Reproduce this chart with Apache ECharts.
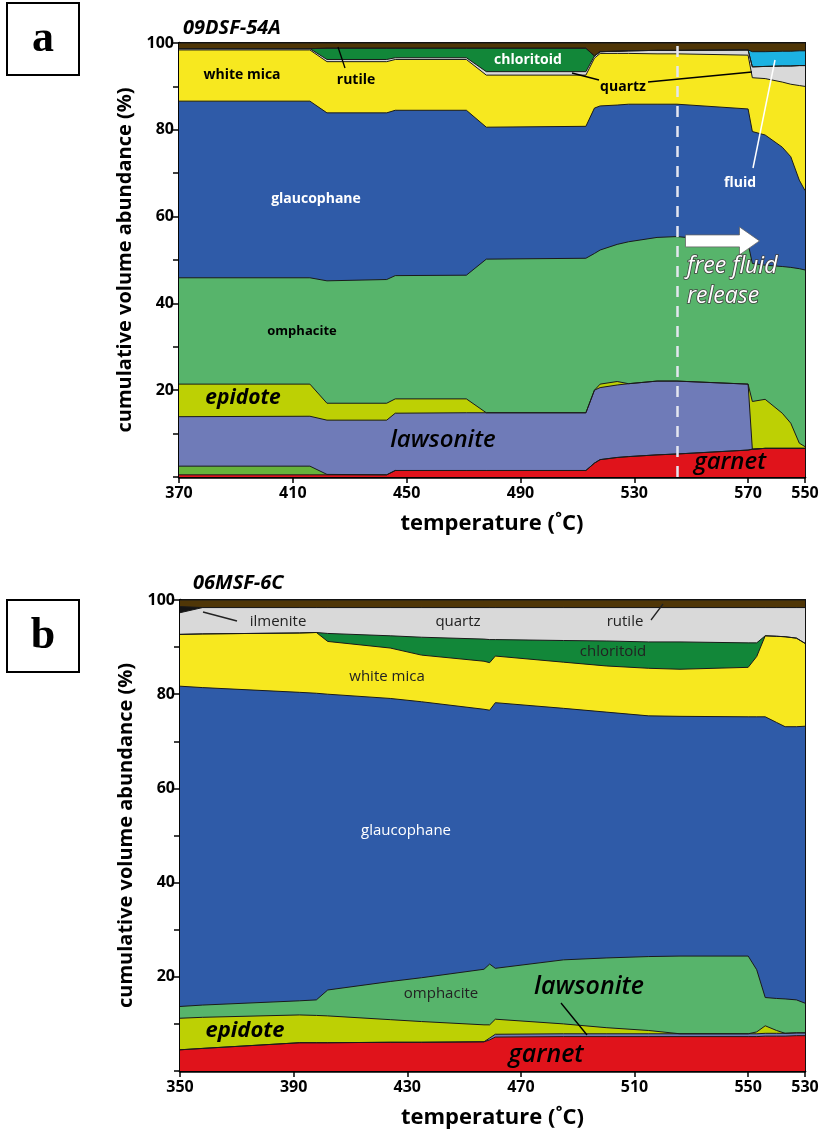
<!DOCTYPE html>
<html>
<head>
<meta charset="utf-8">
<script src="https://cdn.jsdelivr.net/npm/echarts@6/dist/echarts.min.js"></script>
<style>
html,body{margin:0;padding:0;background:#fff}
#c{width:825px;height:1134px}
</style>
</head>
<body>
<div id="c"></div>
<script>
// ---------- Panel a: 09DSF-54A (cumulative volume %, path position along the P-T path) ----------
// Path position; the last point (590) is the retrograde end at 550 °C
const xA = [370, 416, 422, 443, 446, 471, 478, 513, 516, 518, 524, 528, 538, 545, 570, 571.5, 576, 582, 585, 588, 590];
const xTicksA = [370, 410, 450, 490, 530, 570, 590];
const xTickLabelsA = ['370', '410', '450', '490', '530', '570', '550'];

// cumulative upper boundary of each phase
const garnetA      = [0.5, 0.5, 0.5, 0.5, 1.5, 1.5, 1.5, 1.5, 3.2, 4.0, 4.5, 4.7, 5.1, 5.3, 6.2, 6.4, 6.6, 6.6, 6.6, 6.6, 6.6];
const chloriteA    = [2.5, 2.5, 0.6, 0.5, 1.5, 1.5, 1.5, 1.5, 3.2, 4.0, 4.5, 4.7, 5.1, 5.3, 6.2, 6.4, 6.6, 6.6, 6.6, 6.6, 6.6];
const lawsoniteA   = [13.9, 14.0, 13.1, 13.1, 14.7, 14.8, 14.8, 14.8, 20.0, 20.6, 21.2, 21.5, 22.1, 22.1, 21.4, 6.4, 6.6, 6.6, 6.6, 6.6, 6.6];
const epidoteA     = [21.4, 21.4, 17.0, 17.0, 18.0, 18.0, 14.8, 14.8, 20.0, 21.4, 22.0, 21.5, 22.1, 22.1, 21.4, 17.4, 17.9, 14.7, 12.4, 7.8, 7.0];
const omphaciteA   = [45.9, 45.9, 45.2, 45.5, 46.4, 46.5, 50.2, 50.4, 51.5, 52.3, 53.6, 54.2, 55.2, 55.4, 53.8, 49.2, 48.8, 48.5, 48.3, 48.0, 47.7];
const glaucophaneA = [86.6, 86.6, 83.9, 83.9, 84.5, 84.5, 80.6, 80.8, 85.0, 85.5, 85.7, 85.9, 85.9, 85.9, 84.8, 79.6, 78.8, 76.0, 73.8, 68.4, 66.0];
const whiteMicaA   = [98.4, 98.4, 95.7, 95.7, 96.2, 96.2, 92.6, 92.6, 96.5, 97.6, 97.6, 97.6, 97.5, 97.5, 97.2, 92.0, 91.8, 91.0, 90.5, 90.2, 90.0];
const quartzA      = [98.7, 98.7, 96.2, 96.2, 96.6, 96.6, 93.4, 93.4, 97.0, 98.0, 98.1, 98.2, 98.3, 98.3, 98.4, 94.5, 94.6, 94.7, 94.7, 94.8, 94.8];
const chloritoidA  = [98.7, 98.7, 98.8, 98.8, 98.8, 98.8, 98.8, 98.8, 97.0, 98.0, 98.1, 98.2, 98.3, 98.3, 98.4, 94.5, 94.6, 94.7, 94.7, 94.8, 94.8];
const fluidA       = [98.7, 98.7, 98.8, 98.8, 98.8, 98.8, 98.8, 98.8, 97.0, 98.0, 98.1, 98.2, 98.3, 98.3, 98.4, 98.0, 98.0, 98.1, 98.1, 98.2, 98.2];
const rutileA      = [100, 100, 100, 100, 100, 100, 100, 100, 100, 100, 100, 100, 100, 100, 100, 100, 100, 100, 100, 100, 100];
const fluidReleaseA = 545;

// ---------- Panel b: 06MSF-6C ----------
const xB = [350, 358, 392, 398, 402, 424, 435, 457, 459, 461, 485, 500, 515, 526, 550, 553, 556, 560, 563, 567, 570];
const xTicksB = [350, 390, 430, 470, 510, 550, 570];
const xTickLabelsB = ['350', '390', '430', '470', '510', '550', '530'];

const garnetB      = [4.5, 4.8, 6.0, 6.0, 6.0, 6.1, 6.1, 6.2, 6.6, 7.2, 7.3, 7.3, 7.3, 7.3, 7.3, 7.3, 7.4, 7.4, 7.4, 7.5, 7.5];
const lawsoniteB   = [4.5, 4.8, 6.0, 6.0, 6.0, 6.1, 6.1, 6.2, 7.0, 7.8, 7.9, 7.9, 7.9, 7.9, 7.9, 7.9, 8.0, 8.0, 8.0, 8.1, 8.1];
const epidoteB     = [11.2, 11.4, 11.9, 11.8, 11.7, 10.9, 10.5, 9.8, 9.8, 11.0, 10.0, 9.2, 8.6, 7.9, 7.9, 8.3, 9.6, 8.6, 8.0, 8.1, 8.1];
const omphaciteB   = [13.7, 14.0, 14.9, 15.1, 17.2, 19.0, 19.8, 21.6, 22.7, 21.8, 23.6, 24.0, 24.3, 24.4, 24.4, 21.5, 15.6, 15.4, 15.3, 15.1, 14.4];
const glaucophaneB = [81.7, 81.4, 80.4, 80.2, 80.0, 79.1, 78.4, 76.8, 76.6, 78.2, 77.0, 76.2, 75.4, 75.3, 75.2, 75.2, 75.2, 74.0, 73.1, 73.1, 73.2];
const whiteMicaB   = [92.7, 92.8, 93.0, 93.1, 91.2, 89.8, 88.3, 87.0, 86.7, 88.1, 86.8, 86.0, 85.5, 85.3, 85.7, 88.0, 92.4, 92.3, 92.2, 91.9, 90.8];
const chloritoidB  = [92.7, 92.8, 93.0, 93.1, 92.9, 92.4, 92.1, 91.7, 91.6, 91.6, 91.4, 91.3, 91.1, 91.1, 90.9, 90.9, 92.4, 92.3, 92.2, 91.9, 90.8];
const quartzB      = [97.3, 98.4, 98.4, 98.4, 98.4, 98.4, 98.4, 98.4, 98.4, 98.4, 98.4, 98.4, 98.4, 98.4, 98.4, 98.4, 98.4, 98.4, 98.4, 98.4, 98.4];
const ilmeniteB    = [98.6, 98.4, 98.4, 98.4, 98.4, 98.4, 98.4, 98.4, 98.4, 98.4, 98.4, 98.4, 98.4, 98.4, 98.4, 98.4, 98.4, 98.4, 98.4, 98.4, 98.4];
const rutileB      = [100, 100, 100, 100, 100, 100, 100, 100, 100, 100, 100, 100, 100, 100, 100, 100, 100, 100, 100, 100, 100];

const yTicks = [0, 100, 10];

// ---------- colours ----------
const C = {
  rutile: '#4f3607', fluid: '#1cb2e2', chloritoid: '#128739', quartz: '#d9d9d9',
  whiteMica: '#f7e81f', glaucophane: '#2f5ba8', omphacite: '#57b46b', epidote: '#bdd004',
  lawsonite: '#6f7bb8', chlorite: '#66b33a', garnet: '#e0131b', ilmenite: '#141414'
};
const FONT = '"Open Sans", "DejaVu Sans", sans-serif';

// Layers listed from the top of the column downwards: each fills down to 0,
// so every later (lower) phase paints over the one above it.
const layersA = [
  ['rutile', rutileA], ['fluid', fluidA], ['chloritoid', chloritoidA], ['quartz', quartzA],
  ['whiteMica', whiteMicaA], ['glaucophane', glaucophaneA], ['omphacite', omphaciteA],
  ['epidote', epidoteA], ['lawsonite', lawsoniteA], ['chlorite', chloriteA], ['garnet', garnetA]
];
const layersB = [
  ['rutile', rutileB], ['ilmenite', ilmeniteB], ['quartz', quartzB], ['chloritoid', chloritoidB],
  ['whiteMica', whiteMicaB], ['glaucophane', glaucophaneB], ['omphacite', omphaciteB],
  ['epidote', epidoteB], ['lawsonite', lawsoniteB], ['garnet', garnetB]
];

function pairs(xs, ys) { return xs.map((x, i) => [x, ys[i]]); }

function buildSeries(layers, xs, idx) {
  return layers.map(([key, vals]) => ({
    name: key + (idx ? 'B' : 'A'),
    type: 'line',
    xAxisIndex: idx, yAxisIndex: idx,
    data: pairs(xs, vals),
    showSymbol: false, symbol: 'none',
    lineStyle: { color: '#1a1a1a', width: 1 },
    areaStyle: { color: C[key], opacity: 1 },
    silent: true, animation: false
  }));
}

function xAxis(idx, min, max, ticks, labels) {
  return {
    type: 'value', gridIndex: idx, min: min, max: max,
    name: 'temperature (\u02DAC)', nameLocation: 'middle', nameGap: 36,
    nameTextStyle: { fontFamily: FONT, fontWeight: 'bold', fontSize: 22, color: '#000' },
    axisLine: { show: true, lineStyle: { color: '#000', width: 2.5 } },
    axisTick: { show: true, customValues: ticks, length: 6, lineStyle: { color: '#000', width: 1.5 } },
    axisLabel: {
      customValues: ticks, color: '#000', fontFamily: FONT, fontWeight: 'bold', fontSize: 16, margin: 8,
      formatter: v => labels[ticks.indexOf(v)]
    },
    splitLine: { show: false }
  };
}

function yAxis(idx) {
  return {
    type: 'value', gridIndex: idx, min: yTicks[0], max: yTicks[1], interval: yTicks[2],
    name: 'cumulative volume abundance (%)', nameLocation: 'middle', nameGap: 44, nameRotate: 90,
    nameTextStyle: { fontFamily: FONT, fontWeight: 'bold', fontSize: 20, color: '#000' },
    axisLine: { show: true, lineStyle: { color: '#000', width: 2.5 } },
    axisTick: { show: true, length: 6, lineStyle: { color: '#000', width: 1.5 } },
    axisLabel: {
      color: '#000', fontFamily: FONT, fontWeight: 'bold', fontSize: 16, margin: 5,
      formatter: v => (v > 0 && v % 20 === 0) ? String(v) : ''
    },
    splitLine: { show: false }
  };
}

const seriesA = buildSeries(layersA, xA, 0);
const seriesB = buildSeries(layersB, xB, 1);
// dashed marker for the onset of free fluid release
seriesA[seriesA.length - 1].markLine = {
  symbol: 'none', silent: true, animation: false, label: { show: false },
  lineStyle: { color: '#e4e6f0', type: [11, 9], width: 2.5 },
  data: [{ xAxis: fluidReleaseA }]
};

const chart = echarts.init(document.getElementById('c'), null, { renderer: 'canvas' });
chart.setOption({
  backgroundColor: '#fff',
  animation: false,
  grid: [
    { left: 179, right: 20, top: 43, height: 434, show: true, borderColor: '#111', borderWidth: 2, backgroundColor: 'transparent' },
    { left: 180, right: 20, top: 600, height: 471, show: true, borderColor: '#111', borderWidth: 2, backgroundColor: 'transparent' }
  ],
  xAxis: [xAxis(0, 370, 590, xTicksA, xTickLabelsA), xAxis(1, 350, 570, xTicksB, xTickLabelsB)],
  yAxis: [yAxis(0), yAxis(1)],
  series: seriesA.concat(seriesB)
});

// ---------- annotations ----------
function txt(x, y, text, opt) {
  opt = opt || {};
  return {
    type: 'text', x: x, y: y, silent: true, z: 100,
    style: Object.assign({
      text: text, fill: '#000',
      font: (opt.style || '') + ' ' + (opt.weight || 'bold') + ' ' + (opt.size || 14) + 'px ' + (opt.family || FONT),
      textAlign: opt.align || 'center', textVerticalAlign: 'middle'
    }, opt.extra || {})
  };
}
function seg(x1, y1, x2, y2, color, w) {
  return { type: 'line', silent: true, z: 100, shape: { x1: x1, y1: y1, x2: x2, y2: y2 }, style: { stroke: color || '#000', lineWidth: w || 1.3 } };
}
function box(x, y, letter) {
  return [
    { type: 'rect', silent: true, z: 100, shape: { x: x, y: y, width: 72, height: 72 }, style: { fill: '#fff', stroke: '#000', lineWidth: 2 } },
    txt(x + 36, y + 37, letter, { size: 44, family: '"Liberation Serif", "DejaVu Serif", serif' })
  ];
}

// white arrow pointing into the fluid-release field
const a0 = chart.convertToPixel({ gridIndex: 0 }, [548, 54.4]);
const a1 = chart.convertToPixel({ gridIndex: 0 }, [574, 54.4]);
const ay = a0[1], bh = 6, hh = 14, hl = 20;
const arrow = {
  type: 'polygon', silent: true, z: 100,
  shape: { points: [[a0[0], ay - bh], [a1[0] - hl, ay - bh], [a1[0] - hl, ay - hh], [a1[0], ay], [a1[0] - hl, ay + hh], [a1[0] - hl, ay + bh], [a0[0], ay + bh]] },
  style: { fill: '#fff', stroke: '#666', lineWidth: 0.8 }
};
const outlined = { fill: '#fff', stroke: '#444', lineWidth: 1.6, strokeFirst: true };

const graphics = [].concat(
  box(7, 3, 'a'), box(7, 600, 'b'),
  [
    // panel a
    txt(183, 28, '09DSF-54A', { style: 'italic', size: 20, align: 'left' }),
    txt(242, 75, 'white mica'),
    txt(356, 80, 'rutile'), seg(345, 68, 338, 47),
    txt(528, 60, 'chloritoid', { extra: { fill: '#fff' } }),
    txt(623, 87, 'quartz'), seg(599, 80, 572, 73), seg(648, 82, 752, 72),
    txt(740, 183, 'fluid', { extra: { fill: '#fff' } }), seg(753, 168, 775, 60, '#fff', 1.5),
    txt(316, 199, 'glaucophane', { extra: { fill: '#fff' } }),
    txt(302, 331, 'omphacite', { size: 13 }),
    txt(243, 398, 'epidote', { style: 'italic', size: 21 }),
    txt(443, 440, 'lawsonite', { style: 'italic', weight: '600', size: 24 }),
    txt(730, 462, 'garnet', { style: 'italic', weight: '600', size: 24 }),
    arrow,
    txt(687, 266, 'free fluid', { style: 'italic', weight: 'normal', size: 23, align: 'left', extra: outlined }),
    txt(687, 296, 'release', { style: 'italic', weight: 'normal', size: 23, align: 'left', extra: outlined }),
    // panel b
    txt(193, 583, '06MSF-6C', { style: 'italic', size: 20, align: 'left' }),
    txt(278, 622, 'ilmenite', { weight: 'normal', size: 15, extra: { fill: '#222' } }), seg(237, 621, 203, 612, '#222'),
    txt(458, 622, 'quartz', { weight: 'normal', size: 15, extra: { fill: '#222' } }),
    txt(625, 622, 'rutile', { weight: 'normal', size: 15, extra: { fill: '#222' } }), seg(651, 620, 663, 604, '#222'),
    txt(613, 652, 'chloritoid', { weight: 'normal', size: 15, extra: { fill: '#222' } }),
    txt(387, 677, 'white mica', { weight: 'normal', size: 15, extra: { fill: '#222' } }),
    txt(406, 831, 'glaucophane', { weight: 'normal', size: 15, extra: { fill: '#fff' } }),
    txt(441, 994, 'omphacite', { weight: 'normal', size: 15, extra: { fill: '#222' } }),
    txt(589, 987, 'lawsonite', { style: 'italic', weight: '600', size: 25 }), seg(561, 1003, 587, 1035),
    txt(245, 1031, 'epidote', { style: 'italic', size: 22 }),
    txt(546, 1055, 'garnet', { style: 'italic', weight: '600', size: 25 })
  ]
);
chart.setOption({ graphic: { elements: graphics } });
</script>
</body>
</html>
